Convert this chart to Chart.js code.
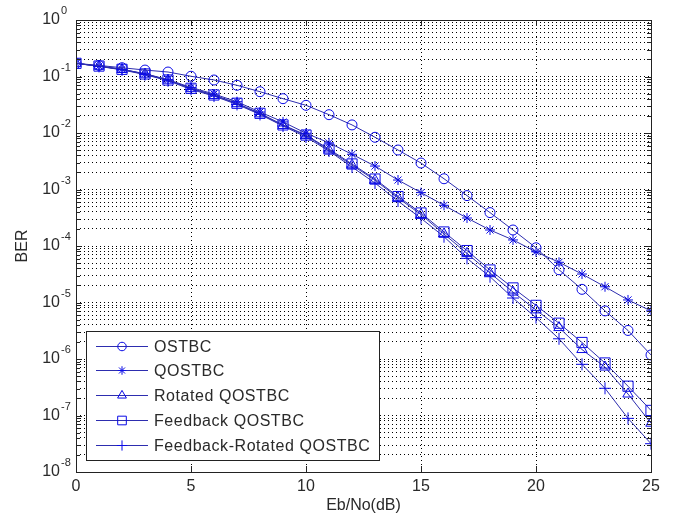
<!DOCTYPE html>
<html>
<head>
<meta charset="utf-8">
<script src="https://cdn.jsdelivr.net/npm/chart.js"></script>
<style>
  html, body { margin: 0; padding: 0; background: #fff; }
  #wrap { width: 685px; height: 523px; }
</style>
</head>
<body>
<div id="wrap"><canvas id="berChart" width="685" height="523"></canvas></div>
<script>
// --- DATOS ---
const ebno = [0,1,2,3,4,5,6,7,8,9,10,11,12,13,14,15,16,17,18,19,20,21,22,23,24,25];
const xTicks = [0, 5, 10, 15, 20, 25];
const yExponents = [0, -1, -2, -3, -4, -5, -6, -7, -8];

const ostbc = [0.171, 0.157, 0.143, 0.130, 0.120, 0.101, 0.0867, 0.0699, 0.0538, 0.0405, 0.0309, 0.0211, 0.0139,
  0.0084, 0.0050, 0.00294, 0.00155, 7.8e-4, 3.9e-4, 1.92e-4, 9.3e-5, 3.8e-5, 1.71e-5, 7.1e-6, 3.2e-6, 1.18e-6];
const qostbc = [0.171, 0.153, 0.134, 0.112, 0.088, 0.064, 0.049, 0.0358, 0.0235, 0.0157, 0.0099, 0.0067, 0.0042,
  0.0026, 0.00147, 8.8e-4, 5.25e-4, 3.13e-4, 1.92e-4, 1.28e-4, 7.9e-5, 5.15e-5, 3.19e-5, 1.9e-5, 1.11e-5, 7.1e-6];
const rotated = [0.171, 0.152, 0.133, 0.110, 0.086, 0.061, 0.046, 0.033, 0.0218, 0.0136, 0.0090, 0.0050, 0.0027,
  0.00146, 7.1e-4, 3.6e-4, 1.63e-4, 7.4e-5, 3.33e-5, 1.53e-5, 7.4e-6, 3.6e-6, 1.47e-6, 7.2e-7, 2.4e-7, 7.3e-8];
const feedback = [0.171, 0.153, 0.134, 0.111, 0.0867, 0.0618, 0.0471, 0.0336, 0.0223, 0.0139, 0.0092, 0.0052, 0.00283,
  0.00153, 7.5e-4, 3.84e-4, 1.77e-4, 8.3e-5, 3.76e-5, 1.81e-5, 8.9e-6, 4.3e-6, 1.96e-6, 8.5e-7, 3.3e-7, 1.23e-7];
const fbRotated = [0.171, 0.151, 0.131, 0.108, 0.084, 0.059, 0.045, 0.032, 0.0213, 0.0133, 0.0085, 0.0048, 0.0025,
  0.0013, 6.25e-4, 3.09e-4, 1.46e-4, 6.05e-5, 2.86e-5, 1.2e-5, 5.4e-6, 2.28e-6, 8.05e-7, 3.03e-7, 8.9e-8, 3.17e-8];

const seriesNames = ['OSTBC', 'QOSTBC', 'Rotated QOSTBC', 'Feedback QOSTBC', 'Feedback-Rotated QOSTBC'];
const seriesValues = [ostbc, qostbc, rotated, feedback, fbRotated];
const seriesMarkers = ['circle', 'star', 'triangle', 'rect', 'cross'];
const markerRadius = [5, 5, 6, 7.2, 6];

const FONT = "'Liberation Sans', Arial, sans-serif";
const LINE_COLOR = 'rgb(45,45,175)';
const MARK_COLOR = 'rgb(10,10,230)';
const TEXT_COLOR = '#2a2a2a';

// --- PLUGINS ---
function esDecada(v) {
  const l = Math.log10(v);
  return Math.abs(l - Math.round(l)) < 1e-9;
}

const marcoPlugin = {
  id: 'marco',
  afterDraw(chart) {
    const { ctx, chartArea: a, scales: { x, y } } = chart;
    ctx.save();
    ctx.strokeStyle = '#222';
    ctx.lineWidth = 1;

    // marcas internas
    ctx.beginPath();
    y.ticks.forEach(t => {
      const py = Math.round(y.getPixelForValue(t.value)) + 0.5;
      const len = esDecada(t.value) ? 6 : 4;
      ctx.moveTo(a.left, py); ctx.lineTo(a.left + len, py);
      ctx.moveTo(a.right, py); ctx.lineTo(a.right - len, py);
    });
    x.ticks.forEach(t => {
      const px = Math.round(x.getPixelForValue(t.value)) + 0.5;
      ctx.moveTo(px, a.bottom); ctx.lineTo(px, a.bottom - 6);
      ctx.moveTo(px, a.top); ctx.lineTo(px, a.top + 6);
    });
    ctx.stroke();

    // caja de ejes
    ctx.strokeRect(Math.round(a.left) + 0.5, Math.round(a.top) + 0.5,
      Math.round(a.right - a.left), Math.round(a.bottom - a.top));

    // etiquetas del eje Y (10^n)
    ctx.fillStyle = TEXT_COLOR;
    ctx.textBaseline = 'middle';
    yExponents.forEach(e => {
      const py = y.getPixelForValue(Math.pow(10, e));
      ctx.font = '16px ' + FONT;
      ctx.textAlign = 'right';
      ctx.fillText('10', 60, py);
      ctx.font = '11px ' + FONT;
      ctx.textAlign = 'left';
      ctx.fillText(String(e), 61, py - 9);
    });

    // leyenda
    const lx = 86, ly = 331, lw = 293, lh = 129;
    ctx.fillStyle = '#fff';
    ctx.fillRect(lx, ly, lw, lh);
    ctx.strokeStyle = '#222';
    ctx.strokeRect(lx + 0.5, ly + 0.5, lw, lh);
    chart.data.datasets.forEach((ds, i) => {
      const ry = Math.round(345.5 + i * 24.9) + 0.5;
      ctx.strokeStyle = LINE_COLOR;
      ctx.lineWidth = 1;
      ctx.beginPath();
      ctx.moveTo(96, ry); ctx.lineTo(148, ry);
      ctx.stroke();
      ctx.strokeStyle = MARK_COLOR;
      ctx.fillStyle = 'rgba(0,0,0,0)';
      Chart.helpers.drawPoint(ctx, {
        pointStyle: ds.pointStyle, radius: ds.pointRadius * 0.85, rotation: 0, borderWidth: 1
      }, 122, ry);
      ctx.fillStyle = TEXT_COLOR;
      ctx.font = '16px ' + FONT;
      ctx.letterSpacing = '0.55px';
      ctx.textAlign = 'left';
      ctx.textBaseline = 'middle';
      ctx.fillText(ds.label, 154, ry + 1);
      ctx.letterSpacing = '0px';
    });
    ctx.restore();
  }
};

// --- GRÁFICO ---
const datasets = seriesNames.map((name, i) => ({
  label: name,
  data: ebno.map((e, k) => ({ x: e, y: seriesValues[i][k] })),
  borderColor: LINE_COLOR,
  borderWidth: 1,
  pointStyle: seriesMarkers[i],
  pointRadius: markerRadius[i],
  pointBorderColor: MARK_COLOR,
  pointBackgroundColor: 'rgba(0,0,0,0)',
  pointBorderWidth: 1,
  tension: 0,
  fill: false
}));

new Chart(document.getElementById('berChart'), {
  type: 'line',
  data: { datasets },
  options: {
    responsive: false,
    animation: false,
    devicePixelRatio: 1,
    layout: { padding: { top: 20, right: 34, left: 0, bottom: 0 } },
    plugins: { legend: { display: false }, tooltip: { enabled: false } },
    scales: {
      x: {
        type: 'linear', min: 0, max: 25,
        afterBuildTicks: s => { s.ticks = xTicks.map(v => ({ value: v })); },
        afterFit: s => { s.height = 51; },
        ticks: { font: { family: FONT, size: 16 }, color: TEXT_COLOR, padding: 5, maxRotation: 0 },
        grid: { color: '#000', lineWidth: 1, drawTicks: false },
        border: { display: false, dash: [1, 3] },
        title: { display: true, text: 'Eb/No(dB)', font: { family: FONT, size: 16 }, color: TEXT_COLOR,
          padding: { top: 0, bottom: 8 } }
      },
      y: {
        type: 'logarithmic', min: 1e-8, max: 1,
        afterBuildTicks: s => {
          const t = [];
          for (let e = -8; e <= 0; e++) {
            for (let m = 1; m <= 9; m++) {
              const v = m * Math.pow(10, e);
              if (v <= 1) t.push({ value: v });
            }
          }
          s.ticks = t;
        },
        afterFit: s => { s.width = 76; },
        ticks: { display: false },
        grid: { color: '#000', lineWidth: 1, drawTicks: false },
        border: { display: false, dash: [1, 3] },
        title: { display: true, text: 'BER', font: { family: FONT, size: 16 }, color: TEXT_COLOR,
          padding: { top: 13, bottom: 0 } }
      }
    }
  },
  plugins: [marcoPlugin]
});
</script>
</body>
</html>
